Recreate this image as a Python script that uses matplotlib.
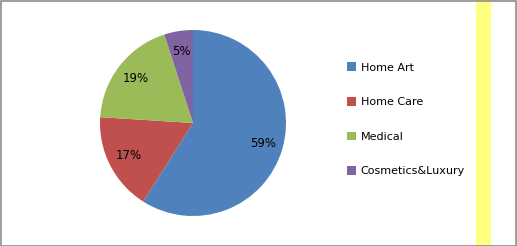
import matplotlib
matplotlib.use('Agg')
import matplotlib.pyplot as plt
from matplotlib.patches import Rectangle, Patch

plt.rcParams['font.family'] = ['DejaVu Sans']

labels = ['Home Art', 'Home Care', 'Medical', 'Cosmetics&Luxury']
shares = [59, 17, 19, 5]
colors = ['#4F81BD', '#C0504D', '#9BBB59', '#8064A2']

W, H = 517, 246
fig = plt.figure(figsize=(W / 100, H / 100), dpi=100)
fig.patch.set_facecolor('white')

# yellow strip on the right
fig.add_artist(Rectangle((476 / W, 0), 15 / W, 1, transform=fig.transFigure,
                         facecolor='#FFFF80', edgecolor='none', zorder=0))
# outer frame
fig.add_artist(Rectangle((0.5 / W, 0.5 / H), (W - 1.5) / W, (H - 1.5) / H,
                         transform=fig.transFigure, facecolor='none',
                         edgecolor='#8C8C8C', linewidth=1.2, zorder=5))

ax = fig.add_axes([100 / W, 30 / H, 186 / W, 186 / H])
wedges, _, autotexts = ax.pie(shares, colors=colors, startangle=90, counterclock=False,
                              autopct=lambda p: f'{round(p)}%', pctdistance=0.78, radius=1,
                              textprops={'fontsize': 8.5, 'color': 'black'})
ax.set_xlim(-1, 1)
ax.set_ylim(-1, 1)
ax.set_aspect('equal')

handles = [Patch(facecolor=c, edgecolor='none') for c in colors]
fig.legend(handles, labels, loc='upper left', bbox_to_anchor=(343 / W, 1 - 58 / H),
           frameon=False, fontsize=8, handlelength=0.8, handleheight=0.8,
           handletextpad=0.4, labelspacing=2.2, borderaxespad=0)

fig.savefig('out.png', dpi=100)
